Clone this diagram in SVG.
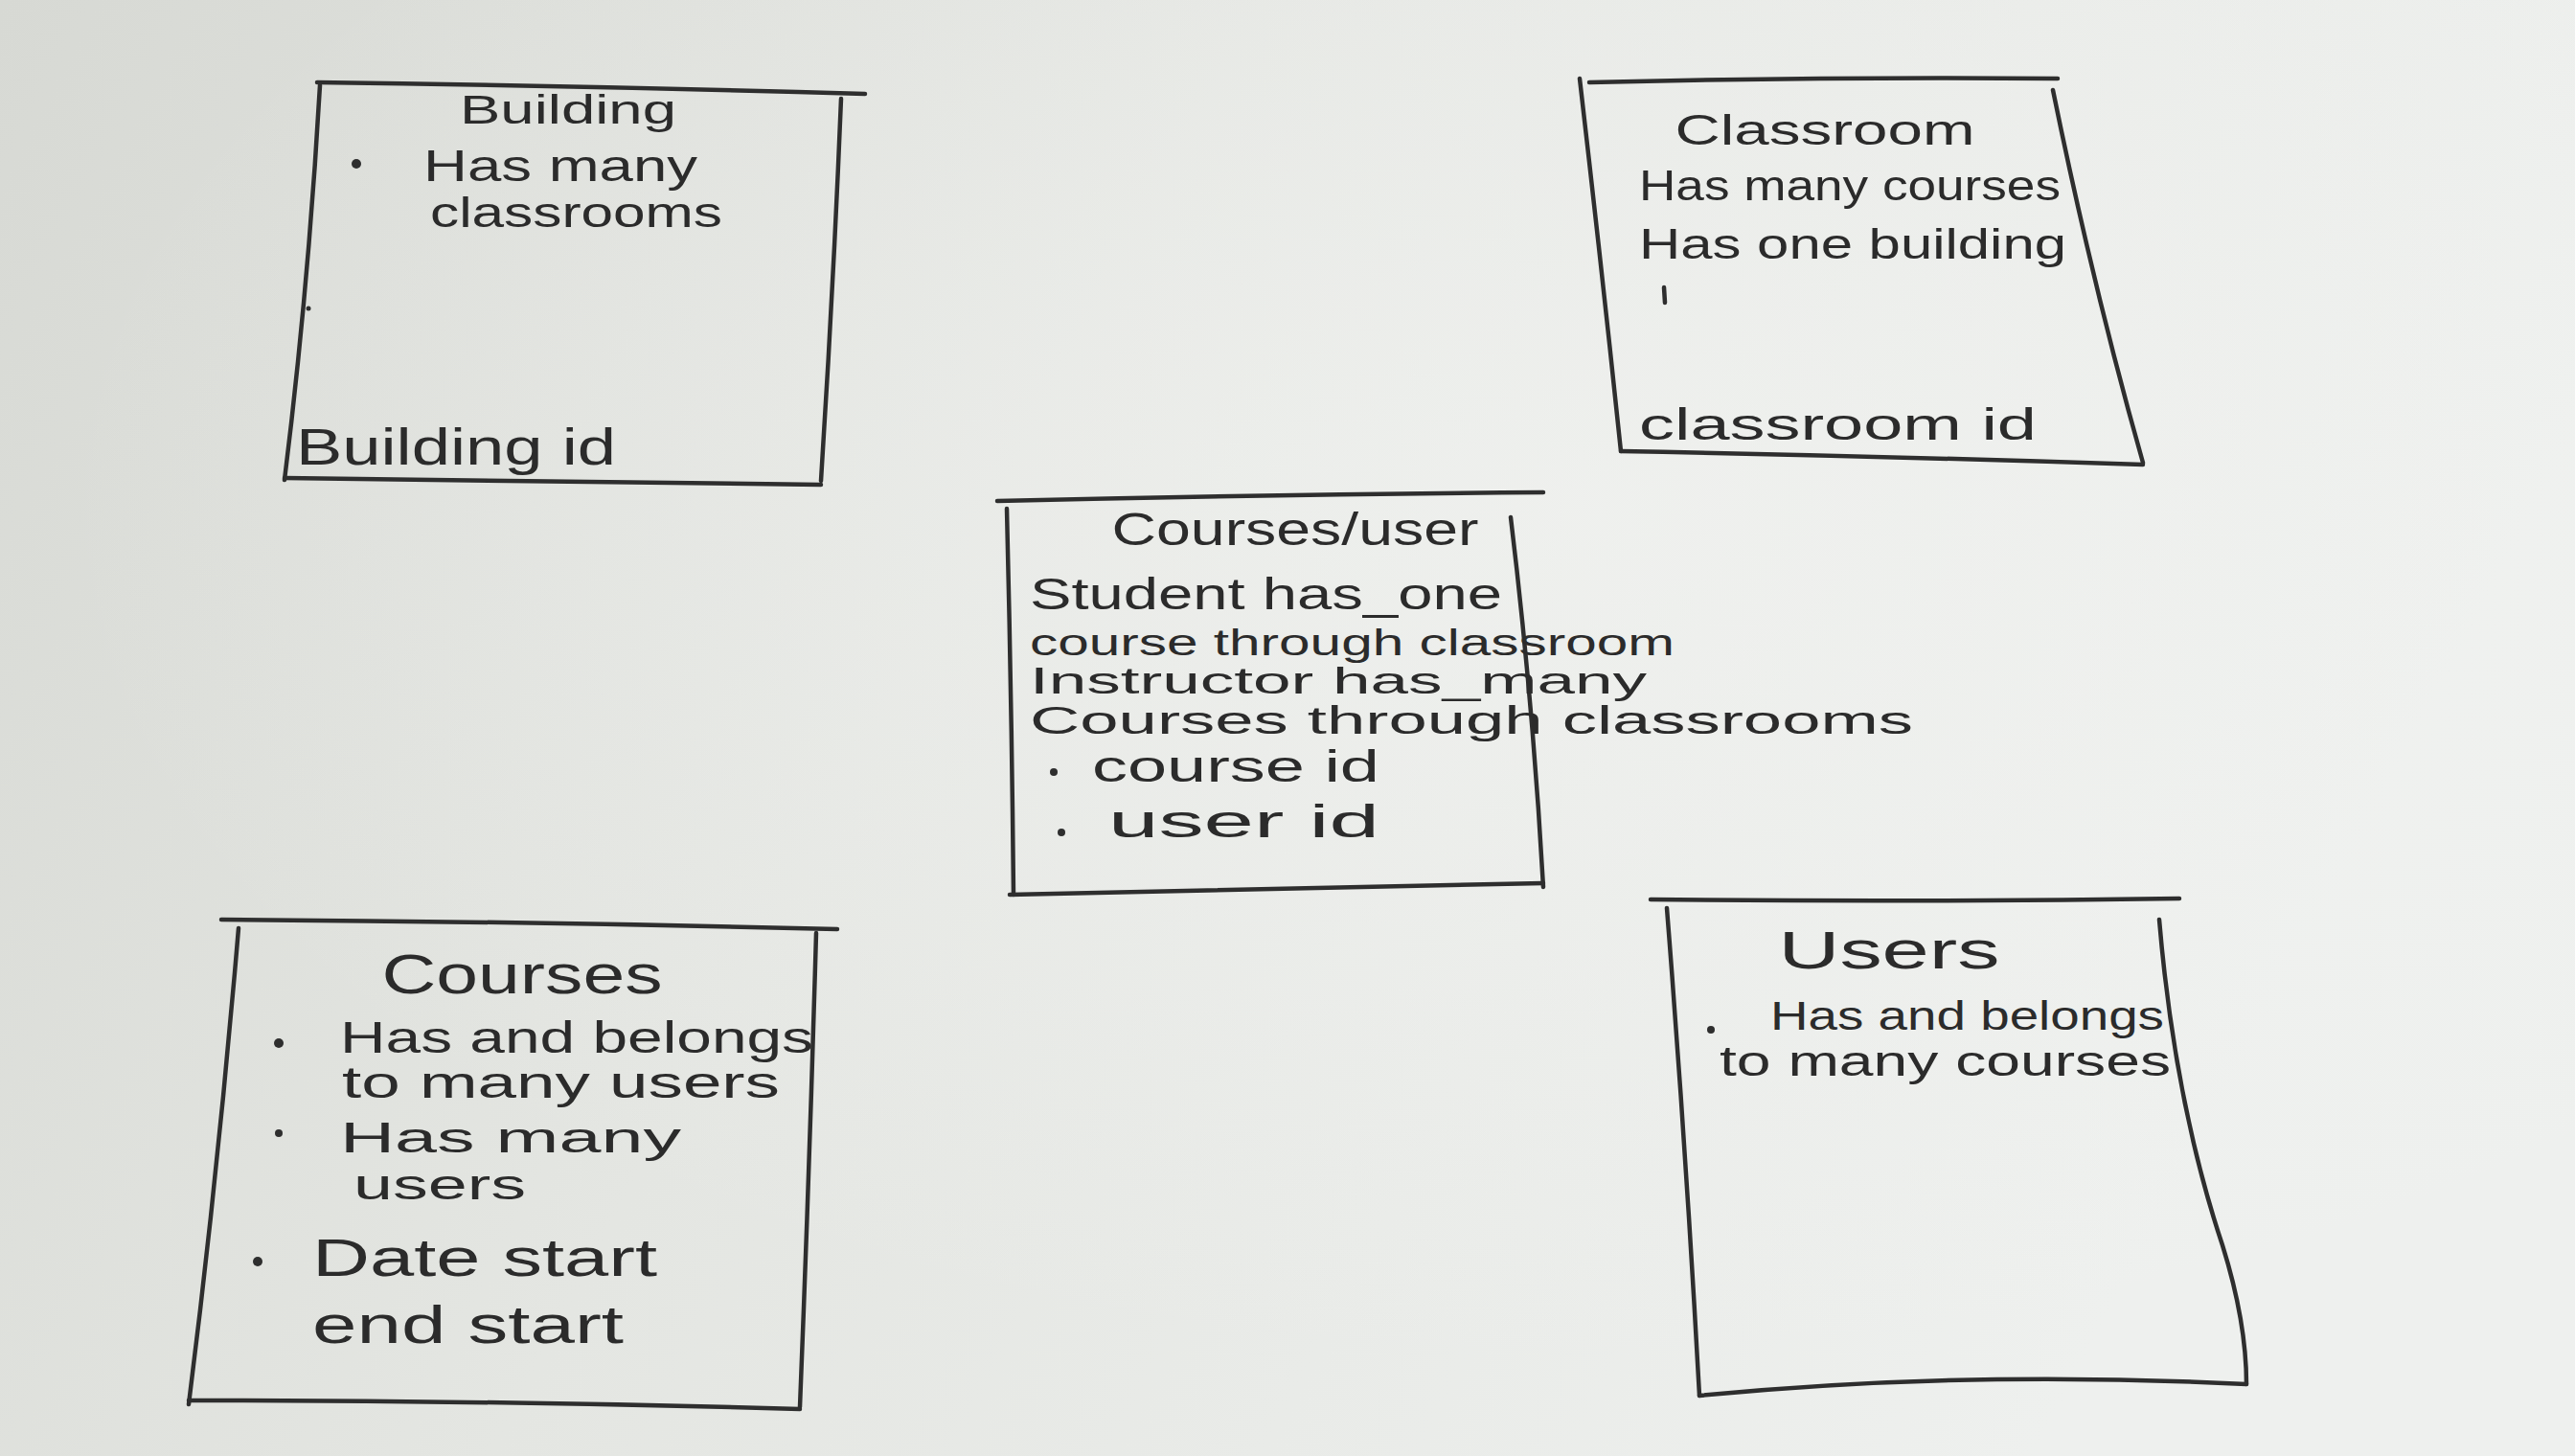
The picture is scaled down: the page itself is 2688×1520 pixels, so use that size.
<svg xmlns="http://www.w3.org/2000/svg" width="2688" height="1520" viewBox="0 0 2688 1520">
  <defs>
    <linearGradient id="paper" x1="0" y1="0" x2="1" y2="0.3">
      <stop offset="0" stop-color="#d7d9d4"/>
      <stop offset="0.45" stop-color="#e4e6e2"/>
      <stop offset="1" stop-color="#eef0ee"/>
    </linearGradient>
    <radialGradient id="glow" cx="0.62" cy="0.35" r="0.6">
      <stop offset="0" stop-color="#f3f4f2" stop-opacity="0.6"/>
      <stop offset="1" stop-color="#f3f4f2" stop-opacity="0"/>
    </radialGradient>
    <style>
      .pen { fill: none; stroke: #2e2e2e; stroke-width: 4.5; stroke-linecap: round; stroke-linejoin: round; }
      .ink { font-family: "Liberation Sans", "DejaVu Sans", sans-serif; fill: #2b2b2b; }
      .dot { fill: #2e2e2e; }
    </style>
  </defs>

  <!-- paper -->
  <rect x="0" y="0" width="2688" height="1520" fill="url(#paper)"/>
  <rect x="0" y="0" width="2688" height="1520" fill="url(#glow)"/>

  <!-- Building -->
  <g id="building">
    <path class="pen" d="M331 86 Q620 90 903 98"/>
    <path class="pen" d="M334 89 Q322 300 297 501"/>
    <path class="pen" d="M878 103 Q870 300 857 502"/>
    <path class="pen" d="M297 499 Q580 502 857 506"/>
    <circle class="dot" cx="322" cy="322" r="2.5"/>
    <text class="ink" x="593" y="129" font-size="42" text-anchor="middle" textLength="226" lengthAdjust="spacingAndGlyphs">Building</text>
    <circle class="dot" cx="372" cy="171" r="5"/>
    <text class="ink" x="442" y="189" font-size="46" textLength="286" lengthAdjust="spacingAndGlyphs">Has many</text>
    <text class="ink" x="449" y="237" font-size="44" textLength="305" lengthAdjust="spacingAndGlyphs">classrooms</text>
    <text class="ink" x="309" y="485" font-size="54" textLength="334" lengthAdjust="spacingAndGlyphs">Building id</text>
  </g>

  <!-- Classroom -->
  <g id="classroom">
    <path class="pen" d="M1659 86 Q1900 80 2148 82"/>
    <path class="pen" d="M1649 82 Q1672 280 1692 471"/>
    <path class="pen" d="M2143 94 Q2185 300 2237 483"/>
    <path class="pen" d="M1692 471 Q1960 476 2237 485"/>
    <path class="pen" d="M1737 300 L1738 316" stroke-width="3"/>
    <text class="ink" x="1905" y="151" font-size="44" text-anchor="middle" textLength="313" lengthAdjust="spacingAndGlyphs">Classroom</text>
    <text class="ink" x="1711" y="209" font-size="44" textLength="440" lengthAdjust="spacingAndGlyphs">Has many courses</text>
    <text class="ink" x="1711" y="270" font-size="44" textLength="446" lengthAdjust="spacingAndGlyphs">Has one building</text>
    <text class="ink" x="1711" y="459" font-size="46" textLength="415" lengthAdjust="spacingAndGlyphs">classroom id</text>
  </g>

  <!-- Courses/user join table -->
  <g id="courses-user">
    <path class="pen" d="M1041 523 Q1330 516 1611 514"/>
    <path class="pen" d="M1051 531 Q1056 730 1058 934"/>
    <path class="pen" d="M1577 540 Q1600 730 1611 926"/>
    <path class="pen" d="M1054 934 Q1330 928 1611 922"/>
    <text class="ink" x="1352" y="569" font-size="48" text-anchor="middle" textLength="383" lengthAdjust="spacingAndGlyphs">Courses/user</text>
    <text class="ink" x="1075" y="636" font-size="46" textLength="493" lengthAdjust="spacingAndGlyphs">Student has_one</text>
    <text class="ink" x="1075" y="684" font-size="38" textLength="673" lengthAdjust="spacingAndGlyphs">course through classroom</text>
    <text class="ink" x="1075" y="724" font-size="38" textLength="644" lengthAdjust="spacingAndGlyphs">Instructor has_many</text>
    <text class="ink" x="1075" y="766" font-size="40" textLength="922" lengthAdjust="spacingAndGlyphs">Courses through classrooms</text>
    <circle class="dot" cx="1100" cy="806" r="4"/>
    <text class="ink" x="1140" y="816" font-size="46" textLength="300" lengthAdjust="spacingAndGlyphs">course id</text>
    <circle class="dot" cx="1108" cy="869" r="4"/>
    <text class="ink" x="1157" y="874" font-size="48" textLength="283" lengthAdjust="spacingAndGlyphs">user id</text>
  </g>

  <!-- Courses -->
  <g id="courses">
    <path class="pen" d="M231 960 Q550 962 874 970"/>
    <path class="pen" d="M249 969 Q228 1220 197 1466"/>
    <path class="pen" d="M852 974 Q845 1220 835 1469"/>
    <path class="pen" d="M197 1462 Q520 1462 835 1471"/>
    <text class="ink" x="545" y="1037" font-size="58" text-anchor="middle" textLength="293" lengthAdjust="spacingAndGlyphs">Courses</text>
    <circle class="dot" cx="291" cy="1089" r="5"/>
    <text class="ink" x="355" y="1099" font-size="46" textLength="494" lengthAdjust="spacingAndGlyphs">Has and belongs</text>
    <text class="ink" x="357" y="1146" font-size="46" textLength="457" lengthAdjust="spacingAndGlyphs">to many users</text>
    <circle class="dot" cx="291" cy="1183" r="4"/>
    <text class="ink" x="355" y="1203" font-size="44" textLength="356" lengthAdjust="spacingAndGlyphs">Has many</text>
    <text class="ink" x="369" y="1252" font-size="44" textLength="180" lengthAdjust="spacingAndGlyphs">users</text>
    <circle class="dot" cx="269" cy="1317" r="5"/>
    <text class="ink" x="326" y="1332" font-size="56" textLength="360" lengthAdjust="spacingAndGlyphs">Date start</text>
    <text class="ink" x="326" y="1402" font-size="56" textLength="325" lengthAdjust="spacingAndGlyphs">end start</text>
  </g>

  <!-- Users -->
  <g id="users">
    <path class="pen" d="M1723 939 Q2000 942 2275 938"/>
    <path class="pen" d="M1740 948 Q1760 1200 1774 1457"/>
    <path class="pen" d="M2254 960 Q2270 1150 2320 1300 Q2345 1380 2345 1445"/>
    <path class="pen" d="M1774 1457 Q2050 1430 2345 1445"/>
    <text class="ink" x="1972" y="1011" font-size="56" text-anchor="middle" textLength="231" lengthAdjust="spacingAndGlyphs">Users</text>
    <circle class="dot" cx="1786" cy="1075" r="4"/>
    <text class="ink" x="1848" y="1075" font-size="42" textLength="411" lengthAdjust="spacingAndGlyphs">Has and belongs</text>
    <text class="ink" x="1795" y="1123" font-size="44" textLength="471" lengthAdjust="spacingAndGlyphs">to many courses</text>
  </g>

  <!-- no connectors are drawn between the tables -->
  <g id="connectors"/>
</svg>
